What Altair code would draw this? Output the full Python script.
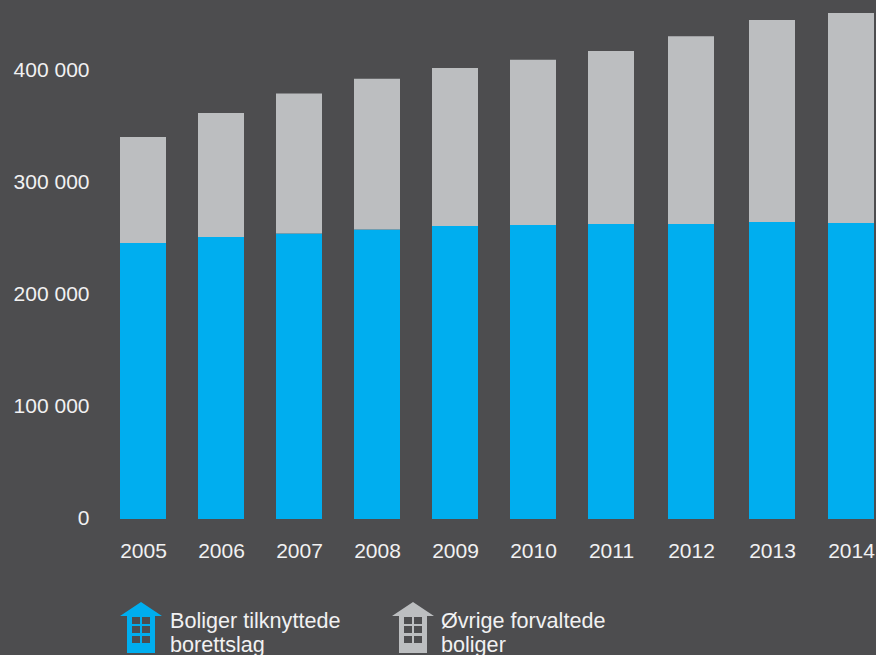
import altair as alt
import pandas as pd

years = list(range(2005, 2015))
tilknyttede = [246400, 251800, 254900, 258500, 261600, 262500, 263400, 263400, 265200, 264300]
totalt = [341000, 362500, 380000, 393000, 402700, 410000, 417900, 431000, 445500, 451800]
ovrige = [t - b for t, b in zip(totalt, tilknyttede)]
y_ticks = [0, 100000, 200000, 300000, 400000]
series = ["Boliger tilknyttede borettslag", "Øvrige forvaltede boliger"]
colors = ["#00aeef", "#bcbec0"]

BG = "#4d4d4f"
TEXT = "#f1f1f2"
FONT = "Liberation Sans"
AXIS_FS = 21
KEY_FS = 21.6

rows = []
for i, y in enumerate(years):
    rows.append({"year": y, "serie": series[0], "rank": 0, "value": tilknyttede[i]})
    rows.append({"year": y, "serie": series[1], "rank": 1, "value": ovrige[i]})
df = pd.DataFrame(rows)

bars = alt.Chart(df).mark_bar(size=46, strokeWidth=0).encode(
    x=alt.X(
        "year:Q",
        title=None,
        # The columns are spaced a little wider towards the right-hand end.
        scale=alt.Scale(domain=[2005, 2011, 2012, 2013, 2014], range=[23, 491, 571, 652, 731], padding=0),
        axis=alt.Axis(values=years, format="d", labelAngle=0, domain=False, ticks=False, grid=False,
                      labelPadding=21, labelFlush=False, labelOverlap=False,
                      labelFont=FONT, labelFontSize=AXIS_FS, labelColor=TEXT),
    ),
    y=alt.Y(
        "value:Q",
        title=None,
        stack="zero",
        scale=alt.Scale(domain=[0, 463400], nice=False),
        axis=alt.Axis(values=y_ticks, domain=False, ticks=False, grid=False, labelPadding=31,
                      labelOffset=-1,
                      labelExpr="replace(format(datum.value, ','), ',', ' ')",
                      labelFont=FONT, labelFontSize=AXIS_FS, labelColor=TEXT),
    ),
    color=alt.Color("serie:N", scale=alt.Scale(domain=series, range=colors), legend=None),
    order=alt.Order("rank:Q"),
)

# House-shaped key symbol: roof and body, with six windows wound the other way so they punch through.
def window(x, y):
    return f"M{x} {y}V{y+7}H{x+8}V{y}Z"

house = "M0 -26L21 -12H14V25H-14V-12H-21Z" + "".join(
    window(x, y) for x in (-9, 1) for y in (-11, -2, 8)
)

def key(color, px, text_x, lines):
    one = pd.DataFrame({"k": [0]})
    layers = [
        alt.Chart(one).mark_point(
            shape=house, size=4, filled=True, fill=color, opacity=1, strokeWidth=0
        ).encode(x=alt.value(px), y=alt.value(628))
    ]
    for line, yy in zip(lines, (622, 646)):
        layers.append(
            alt.Chart(pd.DataFrame({"t": [line]})).mark_text(
                align="left", baseline="middle", font=FONT, fontSize=KEY_FS, color=TEXT
            ).encode(x=alt.value(text_x), y=alt.value(yy), text="t:N")
        )
    return layers

layers = (
    [bars]
    + key(colors[0], 21, 50, ["Boliger tilknyttede", "borettslag"])
    + key(colors[1], 293, 321, ["Øvrige forvaltede", "boliger"])
)

chart = alt.layer(*layers).properties(
    width=754,
    height=519,
    background=BG,
    padding={"left": 120, "top": 0, "right": 2, "bottom": 136},
    autosize=alt.AutoSizeParams(type="none"),
).configure_view(stroke=None)

chart.save("out.html", embed_options={"renderer": "svg", "actions": False})
